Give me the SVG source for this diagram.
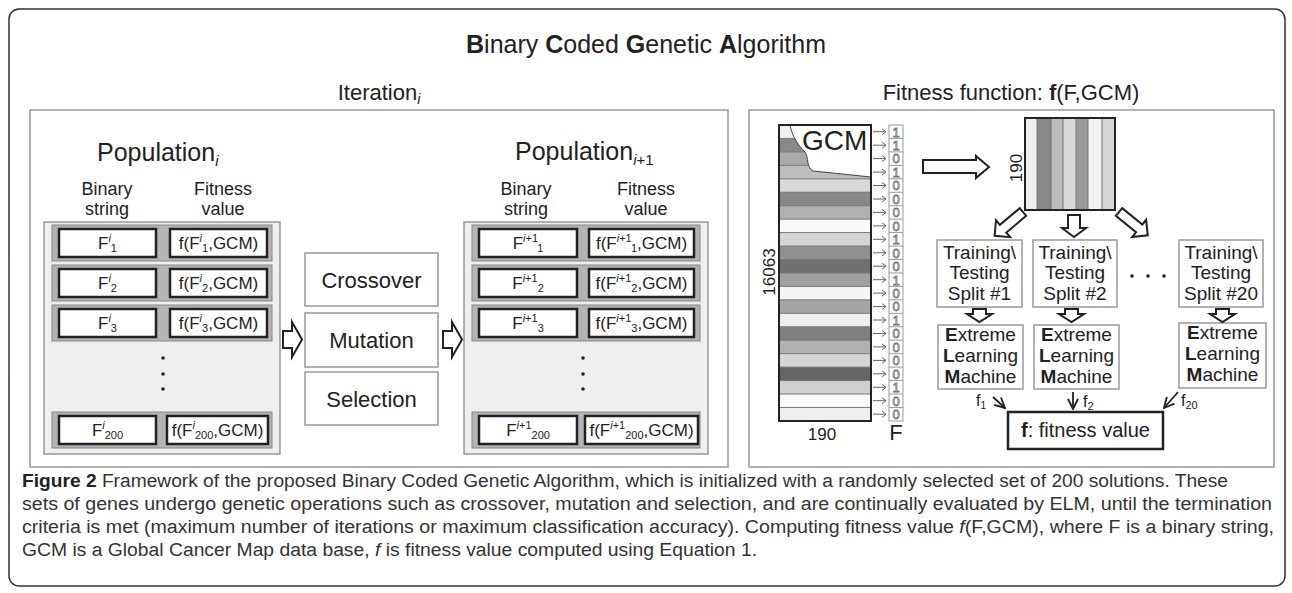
<svg xmlns="http://www.w3.org/2000/svg" width="1292" height="593" viewBox="0 0 1292 593">
<style>
text{font-family:"Liberation Sans",Arial,sans-serif;fill:#222}
.panel{fill:#fff;stroke:#999;stroke-width:1.5}
.grp{fill:#efefef;stroke:#999;stroke-width:1.5}
.band{fill:#b4b4b4;stroke:#888;stroke-width:1}
.cell{fill:#fff;stroke:#222;stroke-width:2.5}
.op{fill:#fff;stroke:#999;stroke-width:1.5}
.ha{fill:#fff;stroke:#222;stroke-width:2;stroke-linejoin:miter}
.bt{font-size:17px;text-anchor:middle}
.hd{font-size:18px;text-anchor:middle}
.opt{font-size:22px;text-anchor:middle}
.bx{fill:#fff;stroke:#999;stroke-width:1.5}
.tt{font-size:19px;text-anchor:middle}
.stripe{stroke:#777;stroke-width:1}
.fc{fill:#fff;stroke:#999;stroke-width:1}
.fd{font-size:13px;text-anchor:middle;fill:#fff;stroke:#777;stroke-width:0.8}
.sa{fill:none;stroke:#666;stroke-width:1}
.cap{font-family:"Liberation Sans Narrow","Liberation Sans",Arial,sans-serif;font-size:18px;fill:#333}
.dot{fill:#222}
.thin{fill:none;stroke:#222;stroke-width:1.8}
</style>
<defs>
<marker id="ah" viewBox="0 0 10 10" refX="9" refY="5" markerWidth="7" markerHeight="7" orient="auto"><path d="M1,1 L9,5 L1,9" fill="none" stroke="#222" stroke-width="1.5"/></marker>
</defs>

<rect id="frame" x="9" y="9" width="1276" height="577" rx="10" fill="#fff" stroke="#333" stroke-width="1.5"/>
<text id="title" x="646" y="53" font-size="25" text-anchor="middle"><tspan font-weight="bold">B</tspan>inary <tspan font-weight="bold">C</tspan>oded <tspan font-weight="bold">G</tspan>enetic <tspan font-weight="bold">A</tspan>lgorithm</text>
<text id="iter-title" x="379" y="100" font-size="22" text-anchor="middle">Iteration<tspan font-size="14" font-style="italic" dy="4">i</tspan></text>
<text id="fit-title" x="1011" y="100" font-size="22" text-anchor="middle">Fitness function: <tspan font-weight="bold">f</tspan>(F,GCM)</text>

<g id="iteration-panel">
<rect class="panel" x="30" y="110" width="698" height="357"/>
</g>

<g id="population-i">
<text x="97" y="161" font-size="25">Population<tspan font-size="15" font-style="italic" dy="5">i</tspan></text>
<text class="hd" x="107" y="195">Binary</text><text class="hd" x="107" y="215">string</text>
<text class="hd" x="223" y="195">Fitness</text><text class="hd" x="223" y="215">value</text>
<rect class="grp" x="44" y="222" width="236" height="232"/>
<rect class="band" x="52" y="225" width="220" height="36"/>
<rect class="cell" x="59" y="229" width="97" height="28"/><rect class="cell" x="170" y="229" width="97" height="28"/>
<text class="bt" x="107.5" y="249">F<tspan font-size="11" font-style="italic" dy="-7">i</tspan><tspan font-size="11" dy="10">1</tspan></text>
<text class="bt" x="218.5" y="249">f(F<tspan font-size="11" font-style="italic" dy="-7">i</tspan><tspan font-size="11" dy="10">1</tspan><tspan dy="-3">,GCM)</tspan></text>
<rect class="band" x="52" y="265" width="220" height="36"/>
<rect class="cell" x="59" y="269" width="97" height="28"/><rect class="cell" x="170" y="269" width="97" height="28"/>
<text class="bt" x="107.5" y="289">F<tspan font-size="11" font-style="italic" dy="-7">i</tspan><tspan font-size="11" dy="10">2</tspan></text>
<text class="bt" x="218.5" y="289">f(F<tspan font-size="11" font-style="italic" dy="-7">i</tspan><tspan font-size="11" dy="10">2</tspan><tspan dy="-3">,GCM)</tspan></text>
<rect class="band" x="52" y="305" width="220" height="36"/>
<rect class="cell" x="59" y="309" width="97" height="28"/><rect class="cell" x="170" y="309" width="97" height="28"/>
<text class="bt" x="107.5" y="329">F<tspan font-size="11" font-style="italic" dy="-7">i</tspan><tspan font-size="11" dy="10">3</tspan></text>
<text class="bt" x="218.5" y="329">f(F<tspan font-size="11" font-style="italic" dy="-7">i</tspan><tspan font-size="11" dy="10">3</tspan><tspan dy="-3">,GCM)</tspan></text>
<circle class="dot" cx="163" cy="358" r="1.8"/><circle class="dot" cx="163" cy="374" r="1.8"/><circle class="dot" cx="163" cy="389" r="1.8"/>
<rect class="band" x="52" y="412" width="220" height="36"/>
<rect class="cell" x="59" y="416" width="97" height="28"/><rect class="cell" x="167" y="416" width="101" height="28"/>
<text class="bt" x="107.5" y="436">F<tspan font-size="11" font-style="italic" dy="-7">i</tspan><tspan font-size="11" dy="10">200</tspan></text>
<text class="bt" x="217.5" y="436">f(F<tspan font-size="11" font-style="italic" dy="-7">i</tspan><tspan font-size="11" dy="10">200</tspan><tspan dy="-3">,GCM)</tspan></text>
</g>

<g id="operators">
<rect class="op" x="305" y="253" width="133" height="53"/>
<text class="opt" x="371.5" y="288">Crossover</text>
<rect class="op" x="305" y="313" width="133" height="54"/>
<text class="opt" x="371.5" y="348">Mutation</text>
<rect class="op" x="305" y="372" width="133" height="53"/>
<text class="opt" x="371.5" y="407">Selection</text>
</g>

<g id="population-i1">
<text x="515" y="160" font-size="25">Population<tspan font-size="15" font-style="italic" dy="5">i</tspan><tspan font-size="15">+1</tspan></text>
<text class="hd" x="526" y="195">Binary</text><text class="hd" x="526" y="215">string</text>
<text class="hd" x="646" y="195">Fitness</text><text class="hd" x="646" y="215">value</text>
<rect class="grp" x="464" y="222" width="244" height="232"/>
<rect class="band" x="472" y="225" width="228" height="36"/>
<rect class="cell" x="479" y="229" width="98" height="28"/><rect class="cell" x="589" y="229" width="105" height="28"/>
<text class="bt" x="528" y="249">F<tspan font-size="11" dy="-7"><tspan font-style="italic">i</tspan>+1</tspan><tspan font-size="11" dy="10">1</tspan></text>
<text class="bt" x="641.5" y="249">f(F<tspan font-size="11" dy="-7"><tspan font-style="italic">i</tspan>+1</tspan><tspan font-size="11" dy="10">1</tspan><tspan dy="-3">,GCM)</tspan></text>
<rect class="band" x="472" y="265" width="228" height="36"/>
<rect class="cell" x="479" y="269" width="98" height="28"/><rect class="cell" x="589" y="269" width="105" height="28"/>
<text class="bt" x="528" y="289">F<tspan font-size="11" dy="-7"><tspan font-style="italic">i</tspan>+1</tspan><tspan font-size="11" dy="10">2</tspan></text>
<text class="bt" x="641.5" y="289">f(F<tspan font-size="11" dy="-7"><tspan font-style="italic">i</tspan>+1</tspan><tspan font-size="11" dy="10">2</tspan><tspan dy="-3">,GCM)</tspan></text>
<rect class="band" x="472" y="305" width="228" height="36"/>
<rect class="cell" x="479" y="309" width="98" height="28"/><rect class="cell" x="589" y="309" width="105" height="28"/>
<text class="bt" x="528" y="329">F<tspan font-size="11" dy="-7"><tspan font-style="italic">i</tspan>+1</tspan><tspan font-size="11" dy="10">3</tspan></text>
<text class="bt" x="641.5" y="329">f(F<tspan font-size="11" dy="-7"><tspan font-style="italic">i</tspan>+1</tspan><tspan font-size="11" dy="10">3</tspan><tspan dy="-3">,GCM)</tspan></text>
<circle class="dot" cx="583" cy="358" r="1.8"/><circle class="dot" cx="583" cy="374" r="1.8"/><circle class="dot" cx="583" cy="389" r="1.8"/>
<rect class="band" x="472" y="412" width="228" height="36"/>
<rect class="cell" x="479" y="416" width="98" height="28"/><rect class="cell" x="585" y="416" width="113" height="28"/>
<text class="bt" x="528" y="436">F<tspan font-size="11" dy="-7"><tspan font-style="italic">i</tspan>+1</tspan><tspan font-size="11" dy="10">200</tspan></text>
<text class="bt" x="641.5" y="436">f(F<tspan font-size="11" dy="-7"><tspan font-style="italic">i</tspan>+1</tspan><tspan font-size="11" dy="10">200</tspan><tspan dy="-3">,GCM)</tspan></text>
</g>

<g id="fitness-panel">
<rect class="panel" x="749" y="110" width="525" height="357"/>
</g>

<g id="gcm-matrix">
<rect x="779" y="125" width="92" height="13.45" fill="#f0f0f0"/>
<rect x="779" y="138.45" width="92" height="13.45" fill="#888"/>
<rect x="779" y="151.9" width="92" height="13.45" fill="#aaa"/>
<rect x="779" y="165.35" width="92" height="13.45" fill="#bdbdbd"/>
<rect x="779" y="178.8" width="92" height="13.45" fill="#d8d8d8"/>
<rect x="779" y="192.25" width="92" height="13.45" fill="#888"/>
<rect x="779" y="205.7" width="92" height="13.45" fill="#b0b0b0"/>
<rect x="779" y="219.15" width="92" height="13.45" fill="#fafafa"/>
<rect x="779" y="232.6" width="92" height="13.45" fill="#d5d5d5"/>
<rect x="779" y="246.05" width="92" height="13.45" fill="#909090"/>
<rect x="779" y="259.5" width="92" height="13.45" fill="#707070"/>
<rect x="779" y="272.95" width="92" height="13.45" fill="#a0a0a0"/>
<rect x="779" y="286.4" width="92" height="13.45" fill="#f5f5f5"/>
<rect x="779" y="299.85" width="92" height="13.45" fill="#a5a5a5"/>
<rect x="779" y="313.3" width="92" height="13.45" fill="#eee"/>
<rect x="779" y="326.75" width="92" height="13.45" fill="#808080"/>
<rect x="779" y="340.2" width="92" height="13.45" fill="#b0b0b0"/>
<rect x="779" y="353.65" width="92" height="13.45" fill="#d5d5d5"/>
<rect x="779" y="367.1" width="92" height="13.45" fill="#666"/>
<rect x="779" y="380.55" width="92" height="13.45" fill="#d0d0d0"/>
<rect x="779" y="394" width="92" height="13.45" fill="#fafafa"/>
<rect x="779" y="407.45" width="92" height="13.55" fill="#eee"/>
<path class="stripe" d="M779,138.45H871M779,151.9H871M779,165.35H871M779,178.8H871M779,192.25H871M779,205.7H871M779,219.15H871M779,232.6H871M779,246.05H871M779,259.5H871M779,272.95H871M779,286.4H871M779,299.85H871M779,313.3H871M779,326.75H871M779,340.2H871M779,353.65H871M779,367.1H871M779,380.55H871M779,394H871M779,407.45H871"/>
<path d="M790,125 C792,136 798,145 805,152 C809,158 806,167 813,171 L871,177 L871,125 Z" fill="#fff" stroke="#444" stroke-width="1"/>
<rect x="779" y="125" width="92" height="296" fill="none" stroke="#222" stroke-width="2"/>
<text x="802" y="150" font-size="28">GCM</text>
<text x="775" y="272" font-size="17" text-anchor="middle" transform="rotate(-90 775 272)">16063</text>
<text x="822" y="440" font-size="17" text-anchor="middle">190</text>
</g>

<g id="f-vector">
<rect class="fc" x="889" y="125" width="14" height="296"/>
<path class="fc" d="M889,138.45H903M889,151.9H903M889,165.35H903M889,178.8H903M889,192.25H903M889,205.7H903M889,219.15H903M889,232.6H903M889,246.05H903M889,259.5H903M889,272.95H903M889,286.4H903M889,299.85H903M889,313.3H903M889,326.75H903M889,340.2H903M889,353.65H903M889,367.1H903M889,380.55H903M889,394H903M889,407.45H903"/>
<text class="fd" x="896" y="136.5">1</text>
<text class="fd" x="896" y="150">1</text>
<text class="fd" x="896" y="163.4">0</text>
<text class="fd" x="896" y="176.9">1</text>
<text class="fd" x="896" y="190.3">0</text>
<text class="fd" x="896" y="203.8">0</text>
<text class="fd" x="896" y="217.2">0</text>
<text class="fd" x="896" y="230.7">0</text>
<text class="fd" x="896" y="244.1">1</text>
<text class="fd" x="896" y="257.6">0</text>
<text class="fd" x="896" y="271">0</text>
<text class="fd" x="896" y="284.5">1</text>
<text class="fd" x="896" y="297.9">0</text>
<text class="fd" x="896" y="311.4">0</text>
<text class="fd" x="896" y="324.8">1</text>
<text class="fd" x="896" y="338.3">0</text>
<text class="fd" x="896" y="351.7">0</text>
<text class="fd" x="896" y="365.2">0</text>
<text class="fd" x="896" y="378.6">0</text>
<text class="fd" x="896" y="392.1">1</text>
<text class="fd" x="896" y="405.5">0</text>
<text class="fd" x="896" y="419">0</text>
<text x="896" y="440" font-size="22" text-anchor="middle">F</text>
</g>

<g id="split-matrix">
<rect x="1025" y="118" width="12" height="92" fill="#eee"/>
<rect x="1037" y="118" width="14" height="92" fill="#888"/>
<rect x="1051" y="118" width="12" height="92" fill="#bbb"/>
<rect x="1063" y="118" width="13" height="92" fill="#d8d8d8"/>
<rect x="1076" y="118" width="12" height="92" fill="#999"/>
<rect x="1088" y="118" width="14" height="92" fill="#f2f2f2"/>
<rect x="1102" y="118" width="13" height="92" fill="#d5d5d5"/>
<path class="stripe" d="M1037,118V210M1051,118V210M1063,118V210M1076,118V210M1088,118V210M1102,118V210"/>
<rect x="1025" y="118" width="90" height="92" fill="none" stroke="#222" stroke-width="2"/>
<text x="1022" y="168" font-size="17" text-anchor="middle" transform="rotate(-90 1022 168)">190</text>
</g>

<g id="split-1">
<rect class="bx" x="937" y="240" width="85" height="67"/>
<text class="tt" x="979.5" y="259">Training\</text><text class="tt" x="979.5" y="279">Testing</text><text class="tt" x="979.5" y="300">Split #1</text>
</g>
<g id="split-2">
<rect class="bx" x="1033" y="240" width="84" height="67"/>
<text class="tt" x="1075" y="259">Training\</text><text class="tt" x="1075" y="279">Testing</text><text class="tt" x="1075" y="300">Split #2</text>
</g>
<g id="split-20">
<rect class="bx" x="1179" y="240" width="84" height="67"/>
<text class="tt" x="1221" y="259">Training\</text><text class="tt" x="1221" y="279">Testing</text><text class="tt" x="1221" y="300">Split #20</text>
</g>
<g id="split-dots">
<circle class="dot" cx="1132" cy="276" r="1.8"/><circle class="dot" cx="1148" cy="276" r="1.8"/><circle class="dot" cx="1164" cy="276" r="1.8"/>
</g>

<g id="elm-1">
<rect class="bx" x="938" y="325" width="85" height="64"/>
<text class="tt" x="980.5" y="341"><tspan font-weight="bold">E</tspan>xtreme</text><text class="tt" x="980.5" y="362"><tspan font-weight="bold">L</tspan>earning</text><text class="tt" x="980.5" y="383"><tspan font-weight="bold">M</tspan>achine</text>
</g>
<g id="elm-2">
<rect class="bx" x="1034" y="325" width="85" height="64"/>
<text class="tt" x="1076.5" y="341"><tspan font-weight="bold">E</tspan>xtreme</text><text class="tt" x="1076.5" y="362"><tspan font-weight="bold">L</tspan>earning</text><text class="tt" x="1076.5" y="383"><tspan font-weight="bold">M</tspan>achine</text>
</g>
<g id="elm-20">
<rect class="bx" x="1179" y="323" width="87" height="65"/>
<text class="tt" x="1222.5" y="339"><tspan font-weight="bold">E</tspan>xtreme</text><text class="tt" x="1222.5" y="360"><tspan font-weight="bold">L</tspan>earning</text><text class="tt" x="1222.5" y="381"><tspan font-weight="bold">M</tspan>achine</text>
</g>

<g id="fitness-value">
<rect x="1008" y="412" width="155" height="37" fill="#fff" stroke="#222" stroke-width="2.5"/>
<text x="1085.5" y="437" font-size="20" text-anchor="middle"><tspan font-weight="bold">f</tspan>: fitness value</text>
</g>

<g id="connectors">
<path class="ha" d="M283,331 H292 V322 L302,339.5 L292,357 V348 H283 Z"/>
<path class="ha" d="M443,331 H452 V322 L462,339.5 L452,357 V348 H443 Z"/>
<path class="ha" d="M923,160 H976 V156 L989,167 L976,178 V173 H923 Z"/>
<path class="ha" transform="translate(1023,212) rotate(140)" d="M0,-5 H26 V-11 L37,0 L26,11 V5 H0 Z"/>
<path class="ha" transform="translate(1074,215) rotate(90)" d="M0,-6 H13 V-12 L22,0 L13,12 V6 H0 Z"/>
<path class="ha" transform="translate(1119,212) rotate(39)" d="M0,-5 H26 V-11 L37,0 L26,11 V5 H0 Z"/>
<path class="ha" d="M973,309 H986 V314 H992 L979.5,322 L967,314 H973 Z"/>
<path class="ha" d="M1065,309 H1078 V314 H1084 L1071.5,322 L1059,314 H1065 Z"/>
<path class="ha" d="M1216,309 H1229 V314 H1235 L1222.5,322 L1210,314 H1216 Z"/>
<path class="sa" d="M873,131.7H886M882,128.7L886,131.7L882,134.7M873,145.2H886M882,142.2L886,145.2L882,148.2M873,158.6H886M882,155.6L886,158.6L882,161.6M873,172.1H886M882,169.1L886,172.1L882,175.1M873,185.5H886M882,182.5L886,185.5L882,188.5M873,199H886M882,196L886,199L882,202M873,212.4H886M882,209.4L886,212.4L882,215.4M873,225.9H886M882,222.9L886,225.9L882,228.9M873,239.3H886M882,236.3L886,239.3L882,242.3M873,252.8H886M882,249.8L886,252.8L882,255.8M873,266.2H886M882,263.2L886,266.2L882,269.2M873,279.7H886M882,276.7L886,279.7L882,282.7M873,293.1H886M882,290.1L886,293.1L882,296.1M873,306.6H886M882,303.6L886,306.6L882,309.6M873,320H886M882,317L886,320L882,323M873,333.5H886M882,330.5L886,333.5L882,336.5M873,346.9H886M882,343.9L886,346.9L882,349.9M873,360.4H886M882,357.4L886,360.4L882,363.4M873,373.8H886M882,370.8L886,373.8L882,376.8M873,387.3H886M882,384.3L886,387.3L882,390.3M873,400.7H886M882,397.7L886,400.7L882,403.7M873,414.2H886M882,411.2L886,414.2L882,417.2"/>
<path class="thin" d="M993,397 L1005,408" marker-end="url(#ah)"/>
<path class="thin" d="M1073,392 V409" marker-end="url(#ah)"/>
<path class="thin" d="M1178,392 L1164,408" marker-end="url(#ah)"/>
<text x="976" y="406" font-size="16">f<tspan font-size="10" dy="3">1</tspan></text>
<text x="1083" y="407" font-size="16">f<tspan font-size="11" dy="3">2</tspan></text>
<text x="1181" y="406" font-size="16">f<tspan font-size="11" dy="3">20</tspan></text>
</g>

<g id="caption">
<text class="cap" x="22" y="487" textLength="1206" lengthAdjust="spacingAndGlyphs"><tspan font-weight="bold" fill="#222">Figure 2</tspan> Framework of the proposed Binary Coded Genetic Algorithm, which is initialized with a randomly selected set of 200 solutions. These</text>
<text class="cap" x="22" y="510" textLength="1250" lengthAdjust="spacingAndGlyphs">sets of genes undergo genetic operations such as crossover, mutation and selection, and are continually evaluated by ELM, until the termination</text>
<text class="cap" x="22" y="533" textLength="1252" lengthAdjust="spacingAndGlyphs">criteria is met (maximum number of iterations or maximum classification accuracy). Computing fitness value <tspan font-style="italic">f</tspan>(F,GCM), where F is a binary string,</text>
<text class="cap" x="22" y="556" textLength="735" lengthAdjust="spacingAndGlyphs">GCM is a Global Cancer Map data base, <tspan font-style="italic">f</tspan> is fitness value computed using Equation 1.</text>
</g>
</svg>
